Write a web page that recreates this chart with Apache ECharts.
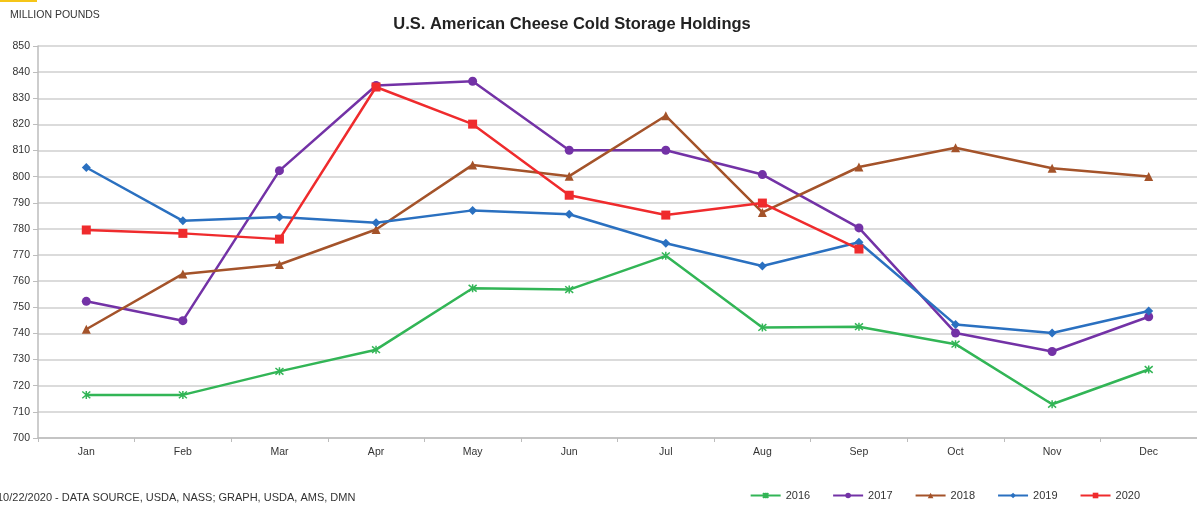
<!DOCTYPE html>
<html>
<head>
<meta charset="utf-8">
<title>U.S. American Cheese Cold Storage Holdings</title>
<script src="https://cdn.jsdelivr.net/npm/echarts@6/dist/echarts.min.js"></script>
<style>
	html,body{margin:0;padding:0;background:#fff;}
	#main{width:1197px;height:506px;}
</style>
</head>
<body>
<div id="main"></div>
<script>
	//月份
	var months=['Jan','Feb','Mar','Apr','May','Jun','Jul','Aug','Sep','Oct','Nov','Dec'];
	//各年份数据 (百万磅)
	var y2016=[716.5,716.5,725.5,733.8,757.3,756.8,769.7,742.3,742.6,735.9,712.9,726.2];
	var y2017=[752.3,744.9,802.3,834.9,836.5,810.1,810.1,800.8,780.4,740.2,733.1,746.4];
	var y2018=[741.6,762.8,766.4,779.8,804.5,800.2,823.3,786.3,803.7,811.1,803.2,800.1];
	var y2019=[803.5,783.1,784.6,782.4,787.1,785.6,774.5,765.8,774.9,743.4,740.2,748.6];
	var y2020=[779.6,778.3,776.1,834.3,820.1,792.9,785.3,789.9,772.3];
	var yTicks=[700,710,720,730,740,750,760,770,780,790,800,810,820,830,840,850];

	var font='Liberation Sans, Arial, sans-serif';
	//星号标记
	var starPath='path://M0,0L10,10M10,0L0,10M5,-1L5,11';

	function makeSeries(name,data,color,symbol,size){
		var s={
			name:name,
			type:'line',
			data:data,
			symbol:symbol,
			symbolSize:size,
			showSymbol:true,
			lineStyle:{color:color,width:2.5},
			itemStyle:{color:color},
			emphasis:{disabled:true},
			z:2
		};
		if(symbol==starPath){
			s.itemStyle={color:'rgba(0,0,0,0)',borderColor:color,borderWidth:1.5};
		}
		return s;
	}

	var chart=echarts.init(document.getElementById('main'));
	var option={
		animation:false,
		backgroundColor:'#fff',
		textStyle:{fontFamily:font},
		title:{
			text:'U.S. American Cheese Cold Storage Holdings',
			left:567,
			top:11,
			textAlign:'center',
			textStyle:{fontSize:16.5,fontWeight:'bold',color:'#222',fontFamily:font}
		},
		graphic:[
			{type:'rect',left:0,top:0,shape:{width:37,height:2},style:{fill:'#f5c518'}},
			{type:'text',left:10,top:10,style:{text:'MILLION POUNDS',fontSize:10.5,fill:'#333',fontFamily:font}},
			{type:'text',left:-3,top:492,style:{text:'10/22/2020 - DATA SOURCE, USDA, NASS; GRAPH, USDA, AMS, DMN',fontSize:11,fill:'#333',fontFamily:font}}
		],
		legend:{
			right:52,
			bottom:0,
			itemWidth:30,
			itemHeight:7,
			itemGap:22,
			textStyle:{fontSize:11,color:'#333',fontFamily:font},
			data:['2016','2017','2018','2019','2020']
		},
		grid:{left:38,right:-1,top:46,bottom:68,containLabel:false},
		xAxis:{
			type:'category',
			data:months,
			boundaryGap:true,
			axisLine:{show:true,lineStyle:{color:'#bdbdbd',width:1.5}},
			axisTick:{show:true,alignWithLabel:false,length:4,lineStyle:{color:'#bdbdbd'}},
			axisLabel:{fontSize:10.5,color:'#333',margin:9}
		},
		yAxis:{
			type:'value',
			min:700,
			max:850,
			interval:10,
			axisLine:{show:true,lineStyle:{color:'#bdbdbd',width:1.5}},
			axisTick:{show:true,length:5,lineStyle:{color:'#bdbdbd'}},
			axisLabel:{fontSize:10.5,color:'#333',margin:8},
			splitLine:{show:true,lineStyle:{color:'#cfcfcf',width:1.5}}
		},
		series:[
			makeSeries('2016',y2016,'#32b556',starPath,8),
			makeSeries('2017',y2017,'#7332a6','circle',9),
			makeSeries('2018',y2018,'#a4532a','triangle',9),
			makeSeries('2019',y2019,'#2a70c0','diamond',9),
			makeSeries('2020',y2020,'#ef2b2d','rect',9)
		]
	};
	chart.setOption(option);
</script>
</body>
</html>
